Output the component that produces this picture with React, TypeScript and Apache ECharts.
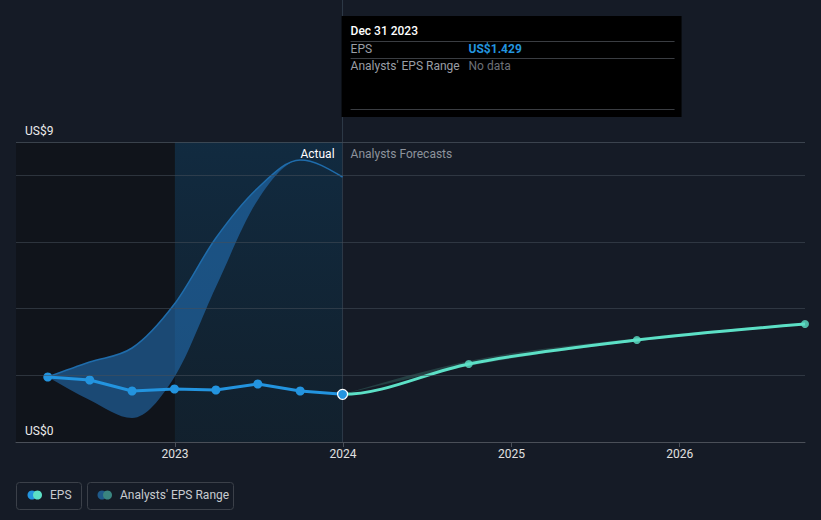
import React, { useEffect, useRef } from "react";
import * as echarts from "echarts";

const actualDates = ["2022-03-31", "2022-06-30", "2022-09-30", "2022-12-31", "2023-03-31", "2023-06-30", "2023-09-30", "2023-12-31"];
const actualEps = [1.95, 1.86, 1.53, 1.59, 1.56, 1.74, 1.53, 1.429];
const actualRangeLow = [1.95, 1.26, 0.72, 1.95, 4.65, 7.26, 8.45, 7.95];
const actualRangeHigh = [1.95, 2.4, 2.82, 4.14, 6.12, 7.62, 8.46, 7.95];

const forecastDates = ["2023-12-31", "2024-09-30", "2025-09-30", "2026-09-30"];
const forecastEps = [1.429, 2.34, 3.06, 3.54];
const forecastRangeLow = [1.429, 2.28, 3.02, 3.51];
const forecastRangeHigh = [1.429, 2.43, 3.11, 3.57];

const yTickLabels: Record<number, string> = { 0: "US$0", 9: "US$9" };
const xMin = "2022-01-21";
const xMax = "2026-09-30";
const pastStart = "2023-01-01";
const todayDate = "2023-12-31";

const FONT = "Roboto, 'Noto Sans', sans-serif";

type Pt = [number, number];

function monotoneTangents(p: Pt[]): number[] {
  const n = p.length;
  const t = new Array(n).fill(0);
  const sgn = (v: number) => (v < 0 ? -1 : 1);
  for (let i = 1; i < n - 1; i++) {
    const h0 = p[i][0] - p[i - 1][0];
    const h1 = p[i + 1][0] - p[i][0];
    const s0 = (p[i][1] - p[i - 1][1]) / h0;
    const s1 = (p[i + 1][1] - p[i][1]) / h1;
    const q = (s0 * h1 + s1 * h0) / (h0 + h1);
    t[i] = (sgn(s0) + sgn(s1)) * Math.min(Math.abs(s0), Math.abs(s1), 0.5 * Math.abs(q)) || 0;
  }
  if (n > 1) {
    const h = p[1][0] - p[0][0];
    t[0] = h ? (3 * (p[1][1] - p[0][1]) / h - t[1]) / 2 : t[1];
    const hl = p[n - 1][0] - p[n - 2][0];
    t[n - 1] = hl ? (3 * (p[n - 1][1] - p[n - 2][1]) / hl - t[n - 2]) / 2 : t[n - 2];
  }
  return t;
}

function monotoneSegments(p: Pt[], reverse: boolean, from = 0): string {
  const t = monotoneTangents(p);
  let s = "";
  if (!reverse) {
    for (let i = from; i < p.length - 1; i++) {
      const dx = (p[i + 1][0] - p[i][0]) / 3;
      s += ` C ${p[i][0] + dx} ${p[i][1] + dx * t[i]} ${p[i + 1][0] - dx} ${p[i + 1][1] - dx * t[i + 1]} ${p[i + 1][0]} ${p[i + 1][1]}`;
    }
  } else {
    for (let i = p.length - 1; i > from; i--) {
      const dx = (p[i][0] - p[i - 1][0]) / 3;
      s += ` C ${p[i][0] - dx} ${p[i][1] - dx * t[i]} ${p[i - 1][0] + dx} ${p[i - 1][1] + dx * t[i - 1]} ${p[i - 1][0]} ${p[i - 1][1]}`;
    }
  }
  return s;
}

function bandSeries(dates: string[], low: number[], high: number[], fill: string, edge: string | null, z: number, extra: any = {}) {
  return {
    type: "custom",
    z,
    silent: true,
    data: dates.map((d, i) => [d, low[i], high[i]]),
    encode: { x: 0, y: [1, 2] },
    renderItem: (params: any, api: any) => {
      if (params.dataIndex !== 0) return null;
      const up: Pt[] = dates.map((d, i) => api.coord([d, high[i]]) as Pt);
      const lo: Pt[] = dates.map((d, i) => api.coord([d, low[i]]) as Pt);
      const area =
        `M ${up[0][0]} ${up[0][1]}` +
        monotoneSegments(up, false) +
        ` L ${lo[lo.length - 1][0]} ${lo[lo.length - 1][1]}` +
        monotoneSegments(lo, true) +
        " Z";
      const children: any[] = [{ type: "path", shape: { pathData: area }, style: { fill, stroke: "none" } }];
      if (edge) {
        children.push({
          type: "path",
          shape: { pathData: `M ${up[0][0]} ${up[0][1]}` + monotoneSegments(up, false) },
          style: { fill: "none", stroke: edge, lineWidth: 1.5 },
        });
      }
      return { type: "group", children };
    },
    ...extra,
  };
}

export default function App() {
  const ref = useRef<HTMLDivElement>(null);
  useEffect(() => {
    if (!ref.current) return;
    const chart = echarts.init(ref.current, undefined, { renderer: "svg" });
    const pair = (d: string[], v: number[]) => d.map((x, i) => [x, v[i]]);
    const nA = actualDates.length;
    chart.setOption({
      animation: false,
      backgroundColor: "#151b26",
      textStyle: { fontFamily: FONT },
      grid: { left: 16, right: 16, top: 142, bottom: 78 },
      xAxis: {
        type: "time",
        min: xMin,
        max: xMax,
        z: 10,
        minInterval: 365 * 24 * 3600 * 1000,
        axisLine: { show: true, lineStyle: { color: "#4a4f58", width: 1 } },
        axisTick: { show: true, length: 5, lineStyle: { color: "#4a4f58" } },
        axisLabel: { color: "#e0e0e0", fontSize: 12, margin: 6, formatter: "{yyyy}", hideOverlap: true },
        splitLine: { show: false },
      },
      yAxis: {
        type: "value",
        min: 0,
        max: 9,
        interval: 2,
        z: 10,
        axisLine: { show: false },
        axisTick: { show: false },
        splitLine: { show: true, lineStyle: { color: "rgba(70,78,90,0.55)", width: 1 } },
        axisLabel: {
          inside: true,
          showMinLabel: true,
          showMaxLabel: true,
          margin: 9,
          verticalAlign: "bottom",
          padding: [0, 0, 5, 0],
          color: "#ececec",
          fontSize: 12,
          formatter: (v: number) => yTickLabels[v] ?? "",
        },
      },
      series: [
        bandSeries(actualDates, actualRangeLow, actualRangeHigh, "rgba(38,126,205,0.5)", "#1f6cab", 2, {
          markArea: {
            silent: true,
            data: [
              [{ xAxis: xMin, itemStyle: { color: "rgba(14,16,20,0.6)" } }, { xAxis: pastStart }],
              [
                {
                  xAxis: pastStart,
                  itemStyle: {
                    color: new echarts.graphic.LinearGradient(0, 0, 0, 1, [
                      { offset: 0, color: "rgba(10,70,110,0.36)" },
                      { offset: 1, color: "rgba(10,45,62,0.3)" },
                    ]),
                  },
                },
                { xAxis: todayDate },
              ],
            ],
          },
        }),
        bandSeries(forecastDates, forecastRangeLow, forecastRangeHigh, "rgba(90,190,170,0.22)", null, 2),
        {
          type: "custom",
          name: "EPS Forecast line",
          z: 4,
          silent: true,
          data: pair(forecastDates, forecastEps),
          encode: { x: 0, y: 1 },
          renderItem: (params: any, api: any) => {
            if (params.dataIndex !== 0) return null;
            const pts: Pt[] = [api.coord([actualDates[nA - 2], actualEps[nA - 2]]) as Pt].concat(
              forecastDates.map((d, i) => api.coord([d, forecastEps[i]]) as Pt)
            );
            return {
              type: "path",
              shape: { pathData: `M ${pts[1][0]} ${pts[1][1]}` + monotoneSegments(pts, false, 1) },
              style: { fill: "none", stroke: "#5ce0c6", lineWidth: 3 },
            };
          },
        },
        {
          type: "scatter",
          name: "EPS Forecast",
          symbol: "circle",
          symbolSize: 8,
          itemStyle: { color: "#5ce0c6" },
          data: pair(forecastDates, forecastEps).slice(1),
          z: 5,
          markLine: {
            silent: true,
            symbol: "none",
            label: { show: false },
            lineStyle: { color: "rgba(70,78,90,0.55)", type: "solid", width: 1 },
            data: [{ yAxis: 9 }],
          },
        },
        {
          type: "line",
          name: "EPS",
          smooth: false,
          symbol: "circle",
          symbolSize: 9,
          itemStyle: { color: "#2394df" },
          lineStyle: { color: "#2394df", width: 3 },
          data: pair(actualDates, actualEps).map((p, i, a) =>
            i === a.length - 1
              ? { value: p, symbolSize: 10, itemStyle: { color: "#2394df", borderColor: "#ffffff", borderWidth: 1.2 } }
              : p
          ),
          z: 6,
        },
      ],
    });

    const px = chart.convertToPixel({ xAxisIndex: 0 }, todayDate) as number;
    const yTop = chart.convertToPixel({ yAxisIndex: 0 }, 9) as number;
    const yBottom = chart.convertToPixel({ yAxisIndex: 0 }, 0) as number;
    const tipX = px - 1;
    const tipW = 340;
    chart.setOption({
      graphic: [
        { type: "line", shape: { x1: px, y1: 0, x2: px, y2: yBottom }, style: { stroke: "#2e3a48", lineWidth: 1 }, z: 1 },
        { type: "text", x: px - 8, y: yTop + 12, style: { text: "Actual", fill: "#ffffff", font: `12px ${FONT}`, align: "right", verticalAlign: "middle" }, z: 10 },
        { type: "text", x: px + 8, y: yTop + 12, style: { text: "Analysts Forecasts", fill: "#8d939c", font: `12px ${FONT}`, align: "left", verticalAlign: "middle" }, z: 10 },
        { type: "rect", shape: { x: tipX, y: 16, width: tipW, height: 101 }, style: { fill: "#000000" }, z: 20 },
        { type: "text", x: tipX + 9, y: 31, style: { text: "Dec 31 2023", fill: "#ffffff", font: `500 12px ${FONT}`, verticalAlign: "middle" }, z: 21 },
        { type: "line", shape: { x1: tipX + 9, y1: 41.5, x2: tipX + tipW - 7, y2: 41.5 }, style: { stroke: "#3a3d42", lineWidth: 1 }, z: 21 },
        { type: "text", x: tipX + 9, y: 49, style: { text: "EPS", fill: "#9a9ea5", font: `12px ${FONT}`, verticalAlign: "middle" }, z: 21 },
        { type: "text", x: tipX + 127, y: 49, style: { text: "US$1.429", fill: "#2394df", font: `bold 12px ${FONT}`, verticalAlign: "middle" }, z: 21 },
        { type: "line", shape: { x1: tipX + 9, y1: 58.5, x2: tipX + tipW - 7, y2: 58.5 }, style: { stroke: "#3a3d42", lineWidth: 1 }, z: 21 },
        { type: "text", x: tipX + 9, y: 66, style: { text: "Analysts' EPS Range", fill: "#9a9ea5", font: `12px ${FONT}`, verticalAlign: "middle" }, z: 21 },
        { type: "text", x: tipX + 127, y: 66, style: { text: "No data", fill: "#6d7178", font: `12px ${FONT}`, verticalAlign: "middle" }, z: 21 },
        { type: "line", shape: { x1: tipX + 9, y1: 109.5, x2: tipX + tipW - 7, y2: 109.5 }, style: { stroke: "#3a3d42", lineWidth: 1 }, z: 21 },
        // legend
        { type: "rect", shape: { x: 16.5, y: 482.5, width: 65, height: 27, r: 3 }, style: { fill: "none", stroke: "#3b4049", lineWidth: 1 }, z: 10 },
        { type: "circle", shape: { cx: 32, cy: 495, r: 4.5 }, style: { fill: "#2394df" }, z: 11 },
        { type: "circle", shape: { cx: 37.5, cy: 495, r: 4.5 }, style: { fill: "#5ce0c6" }, z: 12 },
        { type: "text", x: 50, y: 495, style: { text: "EPS", fill: "#c8cbd0", font: `12px ${FONT}`, verticalAlign: "middle" }, z: 11 },
        { type: "rect", shape: { x: 87.5, y: 482.5, width: 146, height: 27, r: 3 }, style: { fill: "none", stroke: "#3b4049", lineWidth: 1 }, z: 10 },
        { type: "circle", shape: { cx: 102, cy: 495, r: 4.5 }, style: { fill: "#1f5a8a" }, z: 11 },
        { type: "circle", shape: { cx: 107.5, cy: 495, r: 4.5 }, style: { fill: "#3a8580" }, z: 12 },
        { type: "text", x: 120, y: 495, style: { text: "Analysts' EPS Range", fill: "#c8cbd0", font: `12px ${FONT}`, verticalAlign: "middle" }, z: 11 },
      ],
    });
    return () => chart.dispose();
  }, []);
  return <div ref={ref} style={{ position: "fixed", left: 0, top: 0, width: 821, height: 520 }} />;
}
